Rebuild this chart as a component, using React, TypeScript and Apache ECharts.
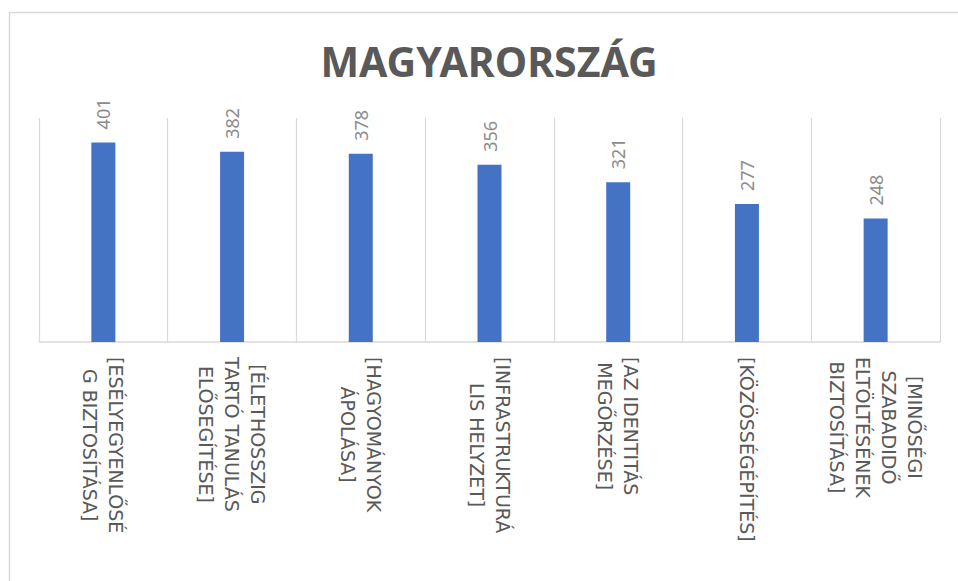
import React, { useEffect, useRef } from "react";
import * as echarts from "echarts";

const titleText = "MAGYARORSZÁG";

const categories: string[] = [
  "[ESÉLYEGYENLŐSÉ\nG BIZTOSÍTÁSA]",
  "[ÉLETHOSSZIG\nTARTÓ TANULÁS\nELŐSEGÍTÉSE]",
  "[HAGYOMÁNYOK\nÁPOLÁSA]",
  "[INFRASTRUKTURÁ\nLIS HELYZET]",
  "[AZ IDENTITÁS\nMEGŐRZÉSE]",
  "[KÖZÖSSÉGÉPÍTÉS]",
  "[MINŐSÉGI\nSZABADIDŐ\nELTÖLTÉSÉNEK\nBIZTOSÍTÁSA]",
];

const values: number[] = [401, 382, 378, 356, 321, 277, 248];

const valueAxisMin = 0;
const valueAxisMax = 450;

export default function App() {
  const ref = useRef<HTMLDivElement>(null);

  useEffect(() => {
    if (!ref.current) return;
    const chart = echarts.init(ref.current, null, { renderer: "svg" });
    chart.setOption({
      animation: false,
      backgroundColor: "#ffffff",
      title: {
        text: titleText,
        left: 484,
        textAlign: "center",
        top: 35,
        textStyle: {
          fontFamily: "Noto Sans",
          fontWeight: "bold",
          fontSize: 41,
          lineHeight: 41,
          color: "#595959",
        },
      },
      graphic: [
        {
          type: "rect",
          silent: true,
          shape: { x: 9.5, y: 12.5, width: 1000, height: 1000 },
          style: { fill: "none", stroke: "#d9d9d9", lineWidth: 1.5 },
        },
      ],
      grid: {
        left: 39,
        right: 18,
        top: 118,
        bottom: 239,
        containLabel: false,
      },
      xAxis: {
        type: "category",
        data: categories,
        boundaryGap: true,
        axisLine: { show: true, lineStyle: { color: "#d9d9d9", width: 1.5 } },
        axisTick: { show: false },
        splitLine: { show: true, lineStyle: { color: "#d9d9d9", width: 1.2 } },
        axisLabel: {
          interval: 0,
          rotate: -90,
          margin: 15,
          hideOverlap: false,
          formatter: (v: string) =>
            v
              .split("\n")
              .map((l) => `{c|${l}}`)
              .join("\n"),
          rich: {
            c: {
              align: "center",
              fontFamily: "DejaVu Sans",
              fontSize: 19,
              lineHeight: 26,
              color: "#595959",
            },
          },
        },
      },
      yAxis: {
        type: "value",
        min: valueAxisMin,
        max: valueAxisMax,
        show: false,
        splitLine: { show: false },
      },
      series: [
        {
          type: "bar",
          data: values,
          barWidth: 24,
          itemStyle: { color: "#4472c4" },
          label: {
            show: true,
            position: "top",
            rotate: 90,
            align: "left",
            verticalAlign: "middle",
            distance: 13,
            fontFamily: "Noto Sans",
            fontSize: 18,
            color: "#8c8c8c",
          },
        },
      ],
    });
    return () => chart.dispose();
  }, []);

  return (
    <div
      ref={ref}
      style={{ position: "absolute", left: 0, top: 0, width: 958, height: 581 }}
    />
  );
}
